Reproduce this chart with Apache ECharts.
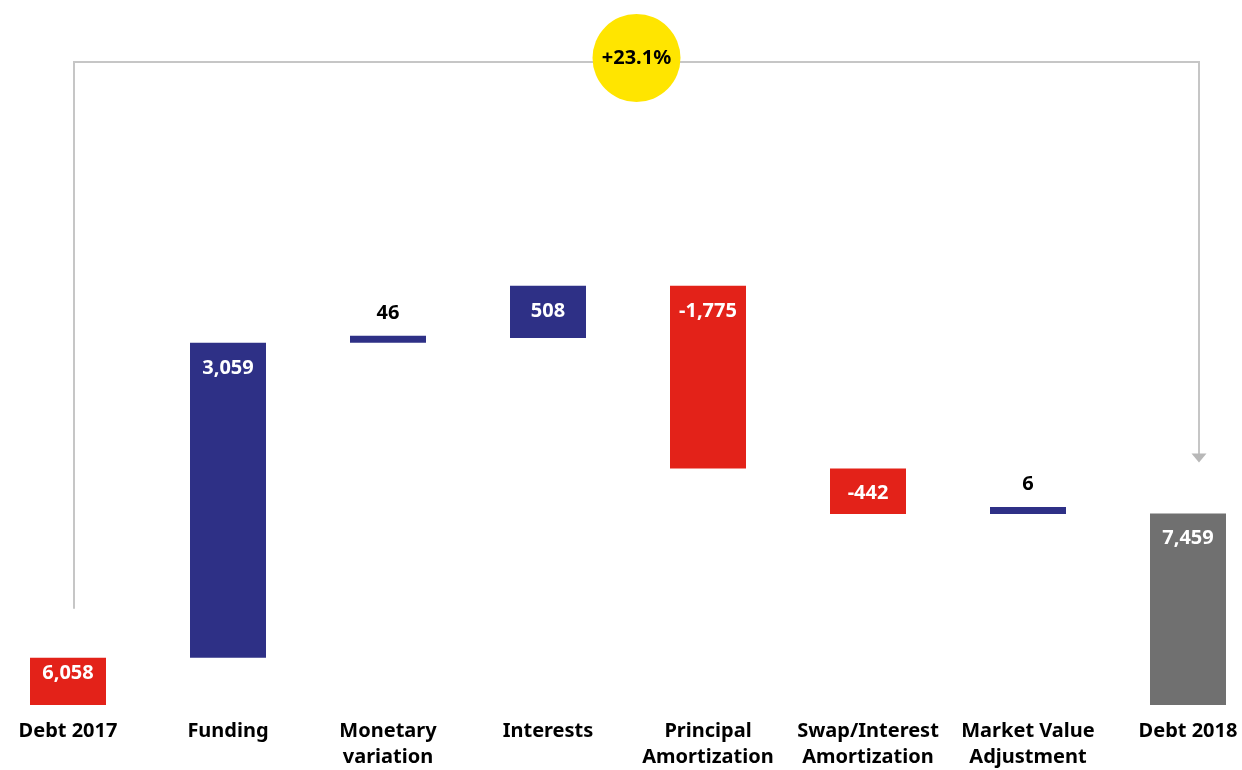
<!DOCTYPE html>
<html>
<head>
<meta charset="utf-8">
<script src="https://cdn.jsdelivr.net/npm/echarts@6/dist/echarts.min.js"></script>
<style>
  html, body { margin: 0; padding: 0; background: #ffffff; overflow: hidden; }
  #chart { position: absolute; left: -12px; top: 0; width: 1280px; height: 770px; }
</style>
</head>
<body>
<div id="chart"></div>
<script>
// Debt bridge 2017 -> 2018
const categories = [
  'Debt 2017', 'Funding', 'Monetary\nvariation', 'Interests',
  'Principal\nAmortization', 'Swap/Interest\nAmortization',
  'Market Value\nAdjustment', 'Debt 2018'
];
const changes = [6058, 3059, 46, 508, -1775, -442, 6, 7459];
const isTotal = [true, false, false, false, false, false, false, true];

const NAVY = '#2E3086';
const RED = '#E32219';
const GREY = '#707070';
const FONT = '"Noto Sans", "DejaVu Sans", sans-serif';

// Value axis is cut: the bars start at this floor
const axisFloor = 5600;
const axisCeil = 12000;

// Build the invisible offset and the visible step for every column
const offsets = [];
const steps = [];
let level = 0;
changes.forEach((v, i) => {
  if (isTotal[i]) {
    offsets.push(0);
    steps.push(v);
    level = v;
  } else {
    offsets.push(v >= 0 ? level : level + v);
    steps.push(Math.abs(v));
    level += v;
  }
});

function colorOf(i) {
  if (isTotal[i]) return i === 0 ? RED : GREY;
  return changes[i] >= 0 ? NAVY : RED;
}

function fmt(v) {
  const s = Math.abs(v).toLocaleString('en-US');
  return (v < 0 ? '-' : '') + s;
}

const stepData = steps.map((v, i) => {
  const thin = !isTotal[i] && Math.abs(changes[i]) < 100;
  return {
    value: v,
    itemStyle: { color: colorOf(i) },
    label: thin
      ? { position: 'top', distance: 13, color: '#000000' }
      : { position: 'insideTop', distance: i === 0 ? 5 : 15, color: '#ffffff' }
  };
});

const chart = echarts.init(document.getElementById('chart'), null, { renderer: 'canvas' });

chart.setOption({
  animation: false,
  backgroundColor: '#ffffff',
  grid: { left: 0, right: 0, top: 46, bottom: 63, containLabel: false },
  xAxis: {
    type: 'category',
    data: categories,
    axisLine: { show: false },
    axisTick: { show: false },
    axisLabel: {
      interval: 0,
      margin: 13,
      color: '#000000',
      fontFamily: FONT,
      fontWeight: 'bold',
      fontSize: 20,
      lineHeight: 26
    }
  },
  yAxis: {
    type: 'value',
    min: axisFloor,
    max: axisCeil,
    show: false,
    splitLine: { show: false }
  },
  series: [
    {
      name: 'offset',
      type: 'bar',
      stack: 'bridge',
      barWidth: 76,
      clip: true,
      silent: true,
      itemStyle: { color: 'rgba(0,0,0,0)' },
      data: offsets
    },
    {
      name: 'step',
      type: 'bar',
      stack: 'bridge',
      barWidth: 76,
      barMinHeight: 7,
      clip: true,
      label: {
        show: true,
        fontFamily: FONT,
        fontWeight: 'bold',
        fontSize: 20,
        formatter: p => fmt(changes[p.dataIndex])
      },
      data: stepData
    }
  ]
});

// Bracket from the opening to the closing debt, with the growth badge
(function drawBracket() {
  const last = changes.length - 1;
  const pStart = chart.convertToPixel({ gridIndex: 0 }, [0, changes[0]]);
  const pEnd = chart.convertToPixel({ gridIndex: 0 }, [last, changes[last]]);
  const xL = pStart[0] + 6;
  const xR = pEnd[0] + 11;
  const yL = pStart[1] - 49;
  const yTip = pEnd[1] - 51;
  const yTop = 62;
  const growth = (changes[last] / changes[0] - 1) * 100;
  const badge = (growth >= 0 ? '+' : '') + growth.toFixed(1) + '%';
  const cx = (xL + xR) / 2;

  chart.setOption({
    graphic: [
      {
        type: 'polyline',
        shape: { points: [[xL, yL], [xL, yTop], [xR, yTop], [xR, yTip - 8]] },
        style: { stroke: '#c6c6c6', lineWidth: 2, fill: null }
      },
      {
        type: 'polygon',
        shape: { points: [[xR - 7.5, yTip - 9], [xR + 7.5, yTip - 9], [xR, yTip]] },
        style: { fill: '#b8b8b8' }
      },
      {
        type: 'circle',
        shape: { cx: cx, cy: yTop - 4, r: 44 },
        style: { fill: '#FFE500' }
      },
      {
        type: 'text',
        x: cx,
        y: yTop - 4,
        style: {
          text: badge,
          fill: '#000000',
          font: 'bold 20px ' + FONT,
          align: 'center',
          verticalAlign: 'middle'
        }
      }
    ]
  });
})();
</script>
</body>
</html>
